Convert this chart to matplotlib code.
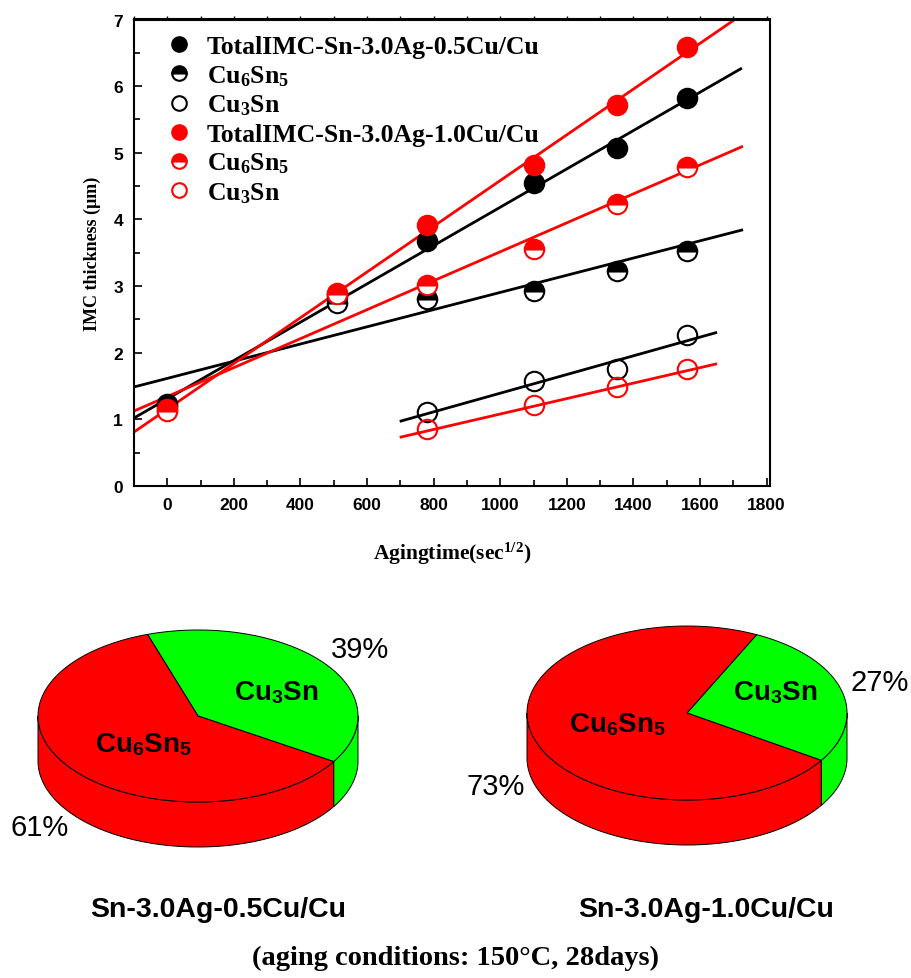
import numpy as np
import matplotlib
matplotlib.use('Agg')
import matplotlib.pyplot as plt
from matplotlib.patches import Polygon
from matplotlib.ticker import MultipleLocator, NullFormatter

plt.rcParams['mathtext.fontset'] = 'custom'
plt.rcParams['mathtext.rm'] = 'Liberation Serif:bold'
plt.rcParams['mathtext.sf'] = 'Liberation Sans:bold'
plt.rcParams['mathtext.it'] = 'Liberation Serif:bold'
plt.rcParams['mathtext.bf'] = 'Liberation Serif:bold'

# ---------------- data ----------------
AGING_X = [0, 510, 780, 1102, 1352, 1562]
CU3SN_X = [780, 1102, 1352, 1562]
TOTAL_05 = [1.23, 2.85, 3.68, 4.54, 5.07, 5.82]
CU6SN5_05 = [1.20, 2.74, 2.80, 2.93, 3.22, 3.53]
CU3SN_05 = [1.11, 1.58, 1.76, 2.27]
TOTAL_10 = [1.15, 2.90, 3.92, 4.82, 5.72, 6.59]
CU6SN5_10 = [1.12, 2.88, 3.02, 3.55, 4.23, 4.79]
CU3SN_10 = [0.86, 1.21, 1.48, 1.75]

LEGEND_LABELS = ['TotalIMC-Sn-3.0Ag-0.5Cu/Cu', r'Cu$_{\mathrm{6}}$Sn$_{\mathrm{5}}$',
                 r'Cu$_{\mathrm{3}}$Sn', 'TotalIMC-Sn-3.0Ag-1.0Cu/Cu',
                 r'Cu$_{\mathrm{6}}$Sn$_{\mathrm{5}}$', r'Cu$_{\mathrm{3}}$Sn']

# linear fit lines as drawn in the picture
FIT_X_START = [-100, -100, 702, -100, -100, 702]
FIT_X_END = [1722, 1725, 1647, 1710, 1725, 1647]
FIT_Y_START = [1.02, 1.486, 0.975, 0.81, 1.125, 0.735]
FIT_Y_END = [6.26, 3.84, 2.30, 7.02, 5.09, 1.83]
FIT_COLORS = ['black', 'black', 'black', 'red', 'red', 'red']

X_TICKS = [0, 200, 400, 600, 800, 1000, 1200, 1400, 1600, 1800]
Y_TICKS = [0, 1, 2, 3, 4, 5, 6, 7]

PIE_TITLES = ['Sn-3.0Ag-0.5Cu/Cu', 'Sn-3.0Ag-1.0Cu/Cu']
PCT_CU3SN = [39, 27]
PCT_CU6SN5 = [61, 73]
PHASE_CU3SN = r'Cu$_{\mathsf{3}}$Sn'
PHASE_CU6SN5 = r'Cu$_{\mathsf{6}}$Sn$_{\mathsf{5}}$'
NOTE = '(aging conditions: 150°C, 28days)'

W, H = 911, 979
fig = plt.figure(figsize=(W / 100, H / 100), dpi=100)

# ---------------- line chart ----------------
ax = fig.add_axes([134 / W, 1 - 487 / H, 636 / W, 466.5 / H])
SERIF = 'Liberation Serif'
SANS = 'Liberation Sans'

for xs, xe, ys, ye, c in zip(FIT_X_START, FIT_X_END, FIT_Y_START, FIT_Y_END, FIT_COLORS):
    ax.plot([xs, xe], [ys, ye], color=c, lw=2.0, zorder=2)

ms = 14
mew = 1.5
series = [
    (AGING_X, TOTAL_05, 'black', 'full'),
    (AGING_X, CU6SN5_05, 'black', 'top'),
    (CU3SN_X, CU3SN_05, 'black', 'none'),
    (AGING_X, TOTAL_10, 'red', 'full'),
    (AGING_X, CU6SN5_10, 'red', 'top'),
    (CU3SN_X, CU3SN_10, 'red', 'none'),
]
handles = []
for (xv, yv, c, fs), lab in zip(series, LEGEND_LABELS):
    kw = dict(marker='o', linestyle='none', ms=ms, mew=mew, color=c, mec=c,
              fillstyle=fs, zorder=3, label=lab)
    if fs == 'top':
        kw['markerfacecoloralt'] = 'white'
    if fs == 'none':
        kw['fillstyle'] = 'full'
        kw['mfc'] = 'none'
    h, = ax.plot(xv, yv, **kw)
    handles.append(h)

ax.set_xlim(-100, 1810)
ax.set_ylim(0, 7)
ax.set_xticks(X_TICKS)
ax.set_yticks(Y_TICKS)
ax.xaxis.set_minor_locator(MultipleLocator(100))
ax.yaxis.set_minor_locator(MultipleLocator(0.5))
ax.tick_params(which='both', direction='in', width=1.2, top=False, right=False)
ax.tick_params(which='major', length=6, labelsize=12.5, pad=8)
ax.tick_params(which='minor', length=4)
for lab in ax.get_xticklabels() + ax.get_yticklabels():
    lab.set_fontfamily(SANS)
    lab.set_fontweight('bold')
for sp in ax.spines.values():
    sp.set_linewidth(1.5)

sec = ax.secondary_xaxis('top')
sec.xaxis.set_major_locator(MultipleLocator(100))
sec.xaxis.set_major_formatter(NullFormatter())
sec.tick_params(direction='out', length=2.5, width=1.0)
sec.spines['top'].set_linewidth(1.5)

ax.set_xlabel(r'Agingtime(sec$^{\mathrm{1/2}}$)', fontfamily=SERIF, fontweight='bold',
              fontsize=15.5, labelpad=20)
ax.set_ylabel('IMC thickness (μm)', fontfamily=SERIF, fontweight='bold',
              fontsize=13, labelpad=9)

leg = ax.legend(handles=handles, loc='upper left', bbox_to_anchor=(0.05, 0.967),
                frameon=False, borderpad=0, borderaxespad=0, handlelength=1.0,
                handletextpad=0.6, labelspacing=0.2, markerscale=0.75,
                prop={'family': SERIF, 'weight': 'bold', 'size': 18.5})

# ---------------- pie charts (pixel coordinate overlay) ----------------
ov = fig.add_axes([0, 0, 1, 1])
ov.set_xlim(0, W)
ov.set_ylim(H, 0)
ov.axis('off')

PIE_GEOM = [dict(cx=198, cy=717, a=160, b=86, d=45, start=-32),
            dict(cx=687, cy=714, a=160, b=87, d=45, start=-33)]
PIE_COLORS = ['#00FF00', '#FF0000']


def ell(g, t):
    t = np.radians(t)
    return g['cx'] + g['a'] * np.cos(t), g['cy'] - g['b'] * np.sin(t)


def draw_pie(g, fracs):
    bounds = []
    t = g['start']
    for f in fracs:
        bounds.append((t, t + 360 * f / 100.0))
        t += 360 * f / 100.0
    # side walls (front half)
    for (t0, t1), col in zip(bounds, PIE_COLORS):
        for lo, hi in [(-180, 0), (180, 360)]:
            s, e = max(t0, lo), min(t1, hi)
            if e > s:
                tt = np.linspace(s, e, 80)
                x, y = ell(g, tt)
                px = np.concatenate([x, x[::-1]])
                py = np.concatenate([y, (y + g['d'])[::-1]])
                ov.add_patch(Polygon(np.column_stack([px, py]), closed=True,
                                     fc=col, ec='black', lw=0.7))
    # top face
    for (t0, t1), col in zip(bounds, PIE_COLORS):
        tt = np.linspace(t0, t1, 150)
        x, y = ell(g, tt)
        px = np.concatenate([[g['cx']], x])
        py = np.concatenate([[g['cy']], y])
        ov.add_patch(Polygon(np.column_stack([px, py]), closed=True,
                             fc=col, ec='black', lw=0.7))


for i in range(2):
    draw_pie(PIE_GEOM[i], [PCT_CU3SN[i], PCT_CU6SN5[i]])

# labels
LBL_CU3SN_POS = [(276, 693), (775, 693)]
LBL_CU6SN5_POS = [(143, 745), (617, 725)]
PCT_CU3SN_POS = [(360, 650), (880, 683)]
PCT_CU6SN5_POS = [(40, 828), (496, 787)]
TITLE_POS = [(218, 910), (706, 910)]
for i in range(2):
    ov.text(*LBL_CU3SN_POS[i], PHASE_CU3SN, fontfamily=SANS, fontweight='bold',
            fontsize=20, ha='center', va='center')
    ov.text(*LBL_CU6SN5_POS[i], PHASE_CU6SN5, fontfamily=SANS, fontweight='bold',
            fontsize=20, ha='center', va='center')
    ov.text(*PCT_CU3SN_POS[i], f'{PCT_CU3SN[i]}%', fontfamily=SANS,
            fontsize=21, ha='center', va='center')
    ov.text(*PCT_CU6SN5_POS[i], f'{PCT_CU6SN5[i]}%', fontfamily=SANS,
            fontsize=21, ha='center', va='center')
    ov.text(*TITLE_POS[i], PIE_TITLES[i], fontfamily=SANS, fontweight='bold',
            fontsize=20.5, ha='center', va='center')

ov.text(455, 958, NOTE, fontfamily=SERIF, fontweight='bold', fontsize=20.5,
        ha='center', va='center')

fig.savefig('out.png', dpi=100)
